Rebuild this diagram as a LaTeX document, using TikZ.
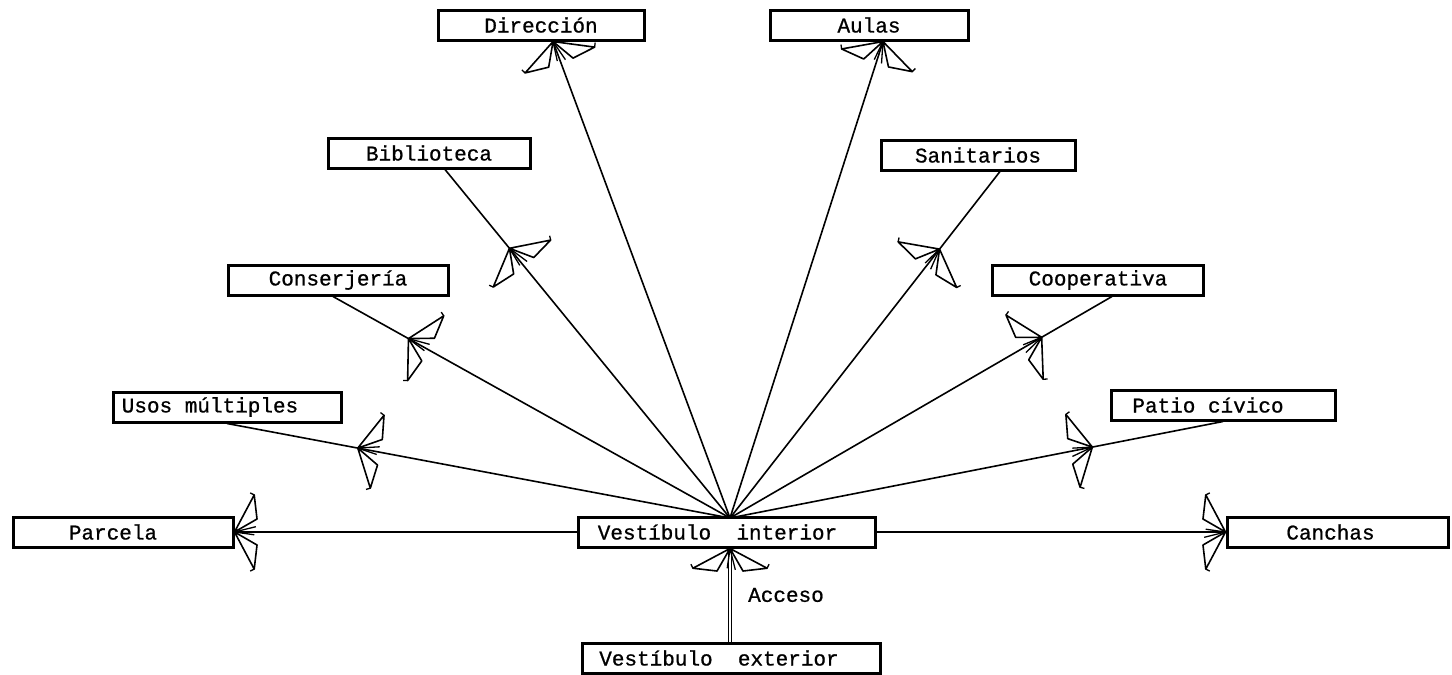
\documentclass[tikz,border=0pt]{standalone}
\usepackage{fontspec}
\newfontfamily\mono[FakeBold=0.8]{Liberation Mono}
\usetikzlibrary{decorations.markings,calc}
\newcommand\shl[1]{\hspace*{#1pt}}
\tikzset{
  box/.style={draw, line width=3pt, inner sep=0pt, minimum height=30pt,
    font=\mono\fontsize{21}{24}\selectfont},
  conn/.style={line width=1.6pt},
  feather/.pic={
    \draw[line width=1.6pt, line join=round] (0,0) -- (118:42pt) -- (150:26pt) -- cycle;
    \draw[line width=1.6pt, line join=round] (0,0) -- (242:42pt) -- (210:26pt) -- cycle;
    \draw[line width=1.3pt] (0,0) -- (172:20pt) (0,0) -- (194:22pt);
    \draw[line width=1.3pt] (118:42pt) -- ++(4pt,2pt) (242:42pt) -- ++(4pt,-2pt);
  },
  fm/.style={postaction={decorate, decoration={markings,
    mark=at position #1 with {\pic[transform shape]{feather};}}}}
}
\begin{document}
\begin{tikzpicture}[x=1pt,y=-1pt]
\useasboundingbox (0,0) rectangle (1452,675);
% boxes
\node[box, minimum width=206pt] (dir)   at (541,25)   {Dirección};
\node[box, minimum width=198pt] (aulas) at (869,25)   {Aulas};
\node[box, minimum width=202pt] (bib)   at (429,153)  {Biblioteca};
\node[box, minimum width=194pt] (san)   at (978,155)  {Sanitarios};
\node[box, minimum width=220pt] (cons)  at (338,280)  {Conserjería};
\node[box, minimum width=211pt] (coop)  at (1098,280) {Cooperativa};
\node[box, minimum width=228pt] (usos)  at (227,407)  {Usos múltiples\shl{34}};
\node[box, minimum width=224pt] (patio) at (1223,405) {Patio cívico\shl{30}};
\node[box, minimum width=220pt] (parc)  at (123,532)  {Parcela\shl{20}};
\node[box, minimum width=297pt] (vint)  at (726.5,532) {Vestíbulo~~interior\shl{18}};
\node[box, minimum width=221pt] (can)   at (1337.5,532) {Canchas\shl{14}};
\node[box, minimum width=298pt] (vext)  at (731,658)  {Vestíbulo~~exterior\shl{24}};
\node[font=\mono\fontsize{21}{24}\selectfont] (acc) at (786,595) {Acceso};
\coordinate (hub) at (730,518);
% radiating connectors
\draw[conn, fm=1]     (hub) -- ($(dir.south)+(12,0)$);
\draw[conn, fm=1]     (hub) -- ($(aulas.south)+(14,0)$);
\draw[conn, fm=0.774] (hub) -- ($(bib.south)+(16,0)$);
\draw[conn, fm=0.776] (hub) -- ($(san.south)+(22,0)$);
\draw[conn, fm=0.81]  (hub) -- ($(cons.south)+(-5,0)$);
\draw[conn, fm=0.816] (hub) -- ($(coop.south)+(14,0)$);
\draw[conn, fm=0.74]  (hub) -- (usos.south);
\draw[conn, fm=0.735] (hub) -- (patio.south);
\draw[conn, fm=1] (vint.west) -- (parc.east);
\draw[conn, fm=1] (vint.east) -- (can.west);
\draw[line width=1.4pt, double distance=2pt, fm=1] (vext.north -| hub) -- (vint.south -| hub);
\end{tikzpicture}
\end{document}
